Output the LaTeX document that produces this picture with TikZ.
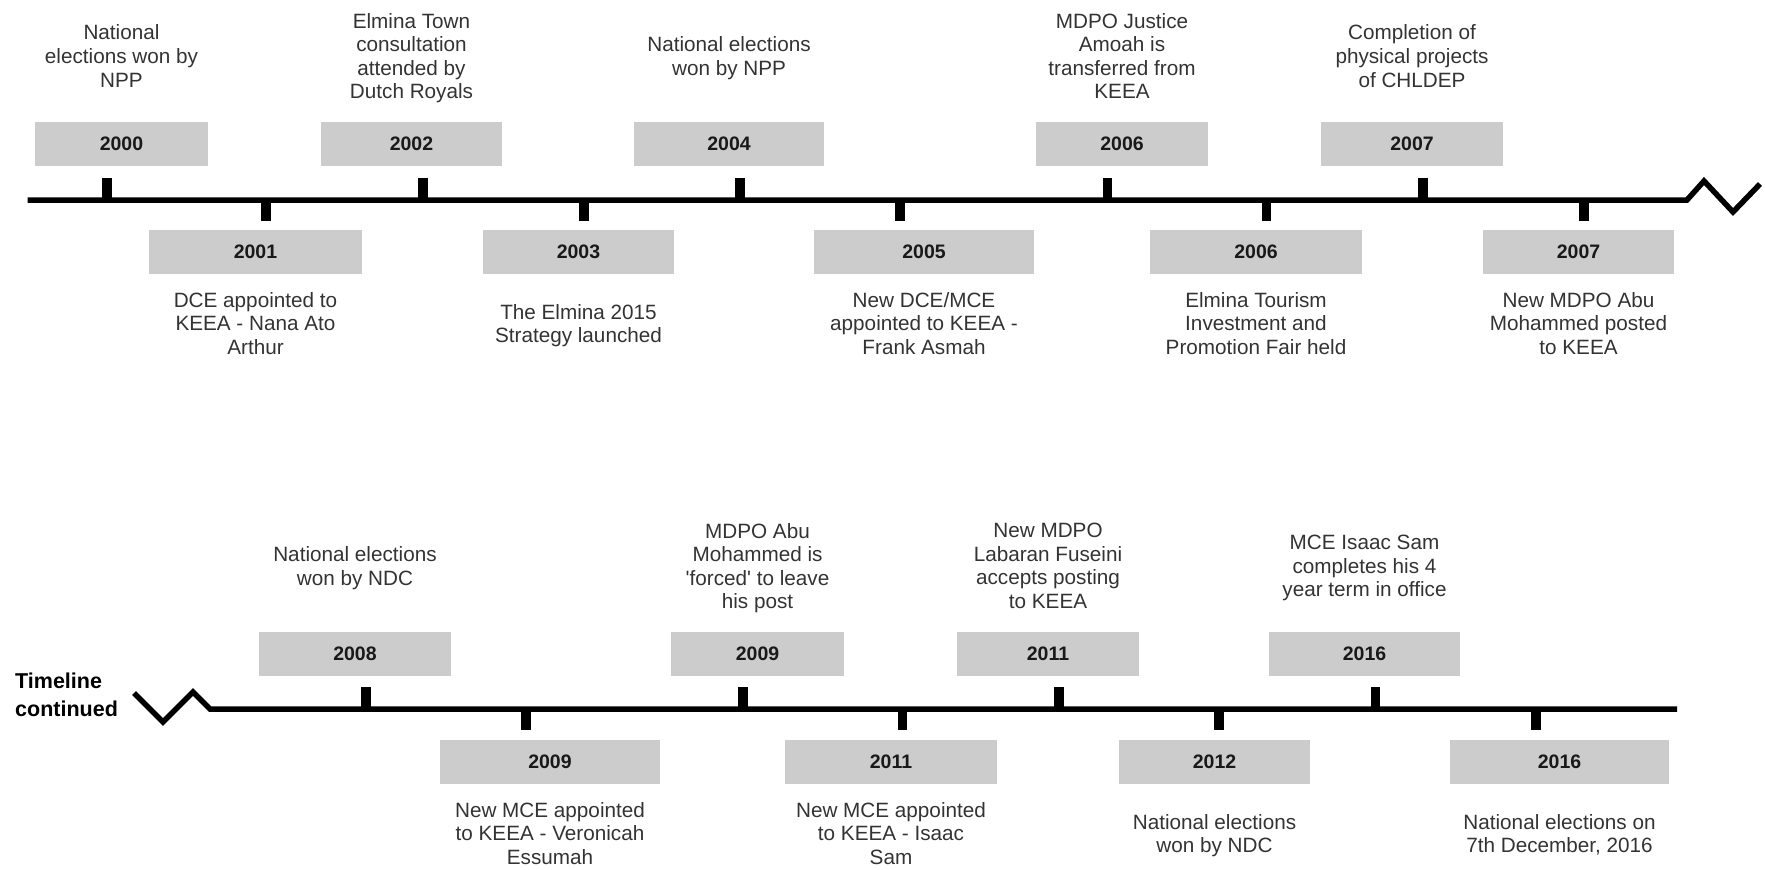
\documentclass[tikz,border=0pt]{standalone}
\usepackage{fontspec}
\setmainfont{Liberation Sans}
\definecolor{boxgray}{HTML}{CCCCCC}
\definecolor{txt}{HTML}{333333}
\begin{document}
\begin{tikzpicture}[x=1pt,y=-1pt,
  yr/.style={fill=boxgray, inner sep=0pt, minimum height=44pt,
    font=\fontsize{19.5}{22}\selectfont\bfseries, text=black!90},
  desc/.style={align=center, inner sep=0pt, text=txt,
    font=\fontsize{20.7}{23.6}\selectfont,
    execute at begin node=\strut, execute at end node=\strut},
  axis/.style={line width=5.5pt, line join=miter},
  tickmark/.style={line width=9.5pt}]
\useasboundingbox (0,0) rectangle (1765,870);

% ---------- top timeline ----------
\draw[axis] (27.5,200) -- (1687,200) -- (1704,181) -- (1733,212) -- (1760,184);
\foreach \x in {107,423,740,1107.5,1423} \draw[tickmark] (\x,178) -- (\x,200);
\foreach \x in {266,584,900,1266.5,1584} \draw[tickmark] (\x,200) -- (\x,221);

% upper boxes
\node[yr, minimum width=173pt] (u2000) at (121.5,144) {2000};
\node[yr, minimum width=181pt] (u2002) at (411.5,144) {2002};
\node[yr, minimum width=190pt] (u2004) at (729,144) {2004};
\node[yr, minimum width=172pt] (u2006) at (1122,144) {2006};
\node[yr, minimum width=182pt] (u2007) at (1412,144) {2007};
% lower boxes
\node[yr, minimum width=213pt] (l2001) at (255.5,251.5) {2001};
\node[yr, minimum width=191pt] (l2003) at (578.5,251.5) {2003};
\node[yr, minimum width=220pt] (l2005) at (924,251.5) {2005};
\node[yr, minimum width=212pt] (l2006) at (1256,251.5) {2006};
\node[yr, minimum width=191pt] (l2007) at (1578.5,251.5) {2007};

% upper texts
\node[desc] (tu2000) at (121.5,59.5) {National\\elections won by\\NPP};
\node[desc] (tu2002) at (411.5,59.5) {Elmina Town\\consultation\\attended by\\Dutch Royals};
\node[desc] (tu2004) at (729,59.5) {National elections\\won by NPP};
\node[desc] (tu2006) at (1122,59.5) {MDPO Justice\\Amoah is\\transferred from\\KEEA};
\node[desc] (tu2007) at (1412,59.5) {Completion of\\physical projects\\of CHLDEP};
% lower texts
\node[desc] (tl2001) at (255.5,327) {DCE appointed to\\KEEA - Nana Ato\\Arthur};
\node[desc] (tl2003) at (578.5,327) {The Elmina 2015\\Strategy launched};
\node[desc] (tl2005) at (924,327) {New DCE/MCE\\appointed to KEEA -\\Frank Asmah};
\node[desc] (tl2006) at (1256,327) {Elmina Tourism\\Investment and\\Promotion Fair held};
\node[desc] (tl2007) at (1578.5,327) {New MDPO Abu\\Mohammed posted\\to KEEA};

% ---------- bottom timeline ----------
\node[align=left, anchor=west, inner sep=0pt, font=\fontsize{21.5}{28}\selectfont\bfseries,
  execute at begin node=\strut, execute at end node=\strut] (cont) at (15,699) {Timeline\\continued};
\draw[axis] (134,693) -- (163,722) -- (193,692) -- (210,709) -- (1677,709);
\foreach \x in {366,743,1059,1375.5} \draw[tickmark] (\x,687) -- (\x,709);
\foreach \x in {526,902.5,1219,1536} \draw[tickmark] (\x,709) -- (\x,730);

\node[yr, minimum width=192pt] (u2008) at (355,654) {2008};
\node[yr, minimum width=173pt] (u2009) at (757.5,654) {2009};
\node[yr, minimum width=182pt] (u2011) at (1048,654) {2011};
\node[yr, minimum width=191pt] (u2016) at (1364.5,654) {2016};
\node[yr, minimum width=220pt] (l2009) at (550,762) {2009};
\node[yr, minimum width=211.5pt] (l2011) at (891,762) {2011};
\node[yr, minimum width=191pt] (l2012) at (1214.5,762) {2012};
\node[yr, minimum width=219pt] (l2016) at (1559.5,762) {2016};

\node[desc] (tu2008) at (355,569.5) {National elections\\won by NDC};
\node[desc] (tu2009) at (757.5,569.5) {MDPO Abu\\Mohammed is\\\textquotesingle forced\textquotesingle\ to leave\\his post};
\node[desc] (tu2011) at (1048,569.5) {New MDPO\\Labaran Fuseini\\accepts posting\\to KEEA};
\node[desc] (tu2016) at (1364.5,569.5) {MCE Isaac Sam\\completes his 4\\year term in office};
\node[desc] (tl2009) at (550,837) {New MCE appointed\\to KEEA - Veronicah\\Essumah};
\node[desc] (tl2011) at (891,837) {New MCE appointed\\to KEEA - Isaac\\Sam};
\node[desc] (tl2012) at (1214.5,837) {National elections\\won by NDC};
\node[desc] (tl2016) at (1559.5,837) {National elections on\\7th December, 2016};
\end{tikzpicture}
\end{document}
